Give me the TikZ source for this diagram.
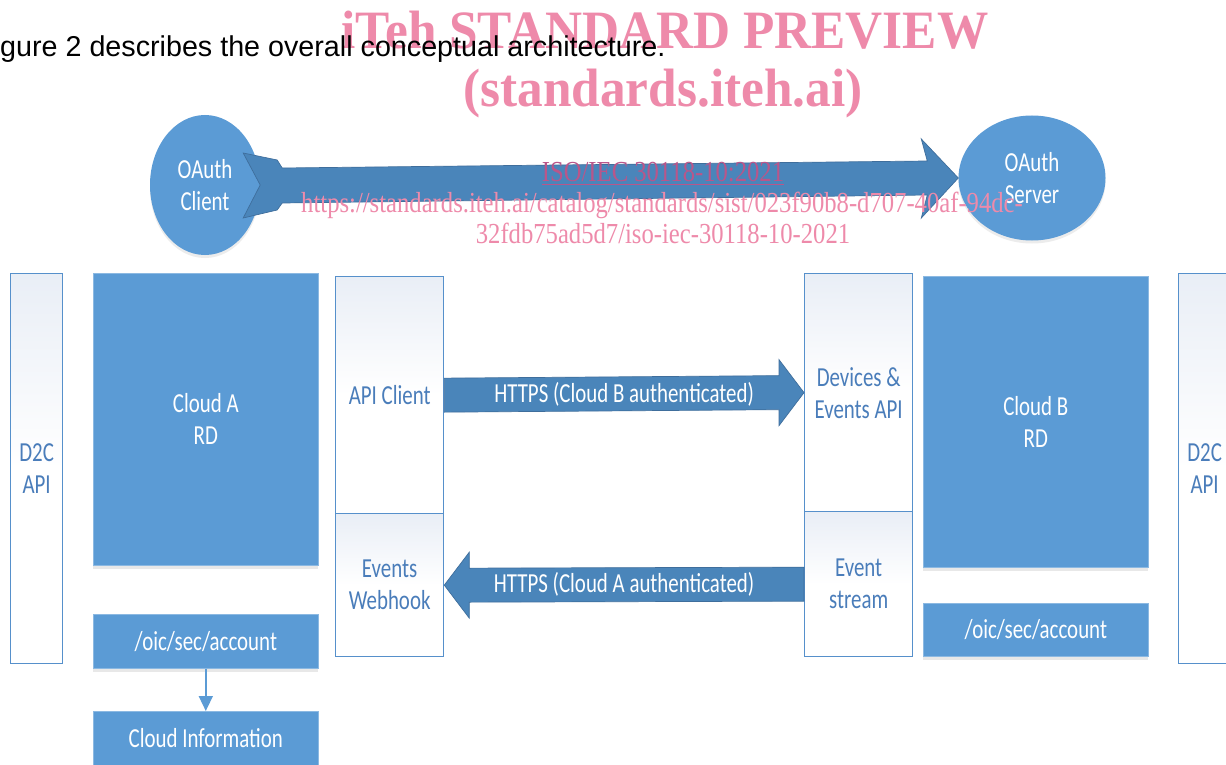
\documentclass[tikz,border=0pt]{standalone}
\usepackage{fontspec}
\setmainfont{Carlito}
\newfontfamily\calf[FakeStretch=0.76]{Carlito}
\newfontfamily\arialf{Liberation Sans}
\newfontfamily\timesb[FakeStretch=0.95]{Liberation Serif}
\newfontfamily\timesn[FakeStretch=0.85]{Liberation Serif}
\usetikzlibrary{calc,shadows,shapes.geometric,arrows.meta}
\definecolor{fillblue}{HTML}{5B9BD5}
\definecolor{arrowblue}{HTML}{4A85BA}
\definecolor{arrowline}{HTML}{3F6E9C}
\definecolor{boxline}{HTML}{5690CB}
\definecolor{boxgrad}{HTML}{E9EEF6}
\definecolor{txtblue}{HTML}{4A7DBA}
\definecolor{wmpink}{HTML}{EE8AAA}
\definecolor{wmdark}{HTML}{B9568A}
\tikzset{
  basefont/.style={font=\calf\fontsize{27.5}{32}\selectfont},
  lightbox/.style={basefont, draw=boxline, line width=1.3pt, top color=boxgrad, bottom color=white,
    middle color=white, text=txtblue, align=center, inner sep=0pt, anchor=north west},
  darkbox/.style={basefont, fill=fillblue, draw=fillblue!70!white, line width=0.6pt, text=white,
    align=center, inner sep=0pt, anchor=north west,
    drop shadow={shadow xshift=0pt, shadow yshift=-4pt, opacity=0.18, fill=gray}},
  oval/.style={basefont, ellipse, fill=fillblue, text=white, align=center, inner sep=0pt,
    drop shadow={shadow xshift=0pt, shadow yshift=-3pt, opacity=0.15, fill=gray}},
  blockarrow/.style={fill=arrowblue, draw=arrowline, line width=0.7pt, line join=miter},
  arrowlabel/.style={basefont, text=white, inner sep=0pt},
  smallarrow/.style={draw=fillblue, line width=1.6pt, -{Triangle[width=14pt,length=15pt]}},
  wmbig/.style={font=\timesb\bfseries\fontsize{54}{54}\selectfont, text=wmpink, inner sep=0pt, anchor=base},
  wmsmall/.style={font=\timesn\fontsize{29}{30}\selectfont, text=wmpink, inner sep=0pt, anchor=base},
}
\begin{document}
\begin{tikzpicture}[x=1pt,y=-1pt]
\useasboundingbox (0,0) rectangle (1226,765);
\clip (0,0) rectangle (1226,765);
\fill[white] (0,0) rectangle (1226,765);

% OAuth ellipses
\node[oval, minimum width=110pt, minimum height=140pt] (client) at (205,185) {OAuth\\Client};
\node[oval, minimum width=147pt, minimum height=125pt] (server) at (1032,178) {OAuth\\Server};

% big OAuth arrow
\draw[blockarrow] (client.east) -- ++(-17,-32) -- ++(34,7) -- ++(5,8)
  -- ($(server.west)+(-31,-17)$) -- ($(server.west)+(-37,-39)$) -- (server.west)
  -- ($(server.west)+(-37,40)$) -- ($(server.west)+(-31,17)$)
  -- ($(client.east)+(22,18)$) -- ($(client.east)+(17,25)$) -- ($(client.east)+(-17,33)$) -- cycle;

% left side
\node[lightbox, minimum width=52pt, minimum height=390pt] (d2cL) at (10,273) {D2C\\API};
\node[darkbox, minimum width=225pt, minimum height=292pt] (cloudA) at (93,273) {Cloud A\\RD};
\node[lightbox, minimum width=108pt, minimum height=237pt] (apic) at (335,276) {API Client};
\node[lightbox, minimum width=108pt, minimum height=143pt] (web) at (335,513) {Events\\Webhook};
\node[darkbox, minimum width=225pt, minimum height=54pt] (accA) at (93,614) {/oic/sec/account};
\node[darkbox, minimum width=225pt, minimum height=54pt] (cinfo) at (93,711) {Cloud Information};
\draw[smallarrow] (accA) -- (cinfo);

% right side
\node[lightbox, minimum width=108pt, minimum height=238pt] (dev) at (804,273) {Devices \&\\Events API};
\node[lightbox, minimum width=108pt, minimum height=145pt] (stream) at (804,511) {Event\\stream};
\node[darkbox, minimum width=225pt, minimum height=291pt] (cloudB) at (923,276) {Cloud B\\RD};
\node[darkbox, minimum width=225pt, minimum height=53pt] (accB) at (923,603) {/oic/sec/account};
\node[lightbox, minimum width=52pt, minimum height=390pt] (d2cR) at (1178,273) {D2C\\API};

% HTTPS arrows
\draw[blockarrow] ($(apic.east)+(0,-17)$) -- ($(dev.west)+(-25,-17)$) -- ($(dev.west)+(-25,-33)$)
  -- (dev.west) -- ($(dev.west)+(-25,33)$) -- ($(dev.west)+(-25,17)$) -- ($(apic.east)+(0,17)$) -- cycle;
\node[arrowlabel] (lblB) at ($(apic.east)!0.5!(dev.west)$) {HTTPS (Cloud B authenticated)};
\draw[blockarrow] ($(stream.west)+(0,-17)$) -- ($(web.east)+(25,-17)$) -- ($(web.east)+(25,-33)$)
  -- (web.east) -- ($(web.east)+(25,33)$) -- ($(web.east)+(25,17)$) -- ($(stream.west)+(0,17)$) -- cycle;
\node[arrowlabel] (lblA) at ($(web.east)!0.5!(stream.west)$) {HTTPS (Cloud A authenticated)};

% watermark
\node[wmbig] (wm1) at (665,49) {iTeh STANDARD PREVIEW};
\node[wmbig] (wm2) at (663,107) {(standards.iteh.ai)};
\node[wmsmall, text=wmdark] (wm3) at (663,182) {\underline{ISO/IEC 30118-10:2021}};
\node[wmsmall] (wm4) at (662,212) {https://standards.iteh.ai/catalog/standards/sist/023f90b8-d707-40af-94dc-};
\node[wmsmall] (wm5) at (663,243) {32fdb75ad5d7/iso-iec-30118-10-2021};

% intro sentence
\node[font=\arialf\fontsize{28.7}{30}\selectfont, anchor=base west, inner sep=0pt] (intro) at (0,57)
  {gure 2 describes the overall conceptual architecture.};
\end{tikzpicture}
\end{document}
